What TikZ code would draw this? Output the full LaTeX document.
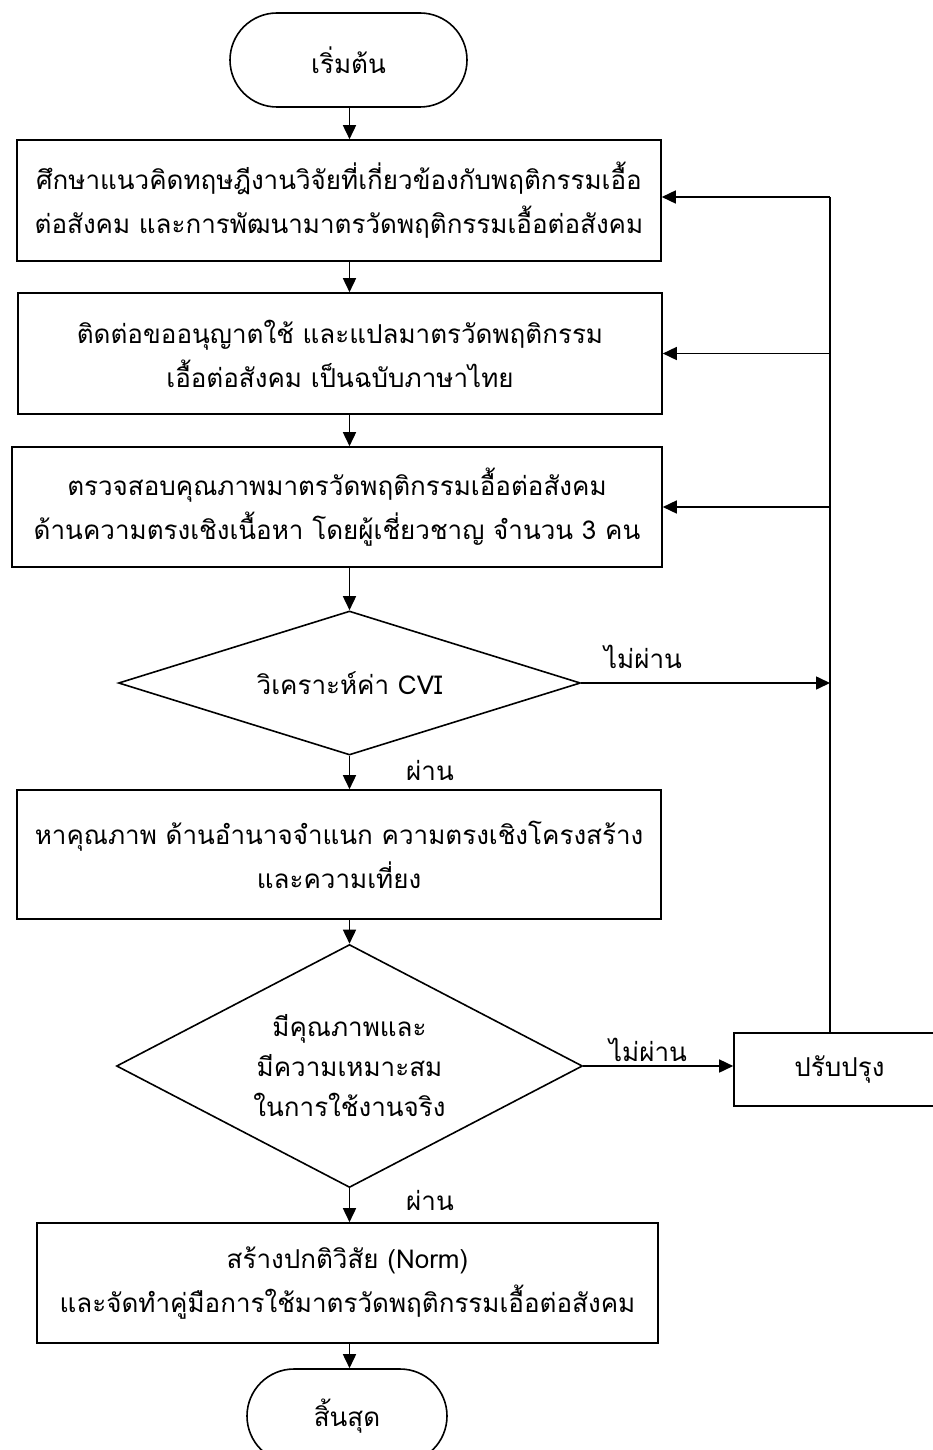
\documentclass[tikz,border=0pt]{standalone}
\usepackage{fontspec}
\setmainfont{Loma}[Script=Thai]
\usetikzlibrary{arrows.meta,shapes.geometric}
\begin{document}
\begin{tikzpicture}[x=1pt,y=-1pt,
  txt/.style={font=\fontsize{26}{44}\selectfont},
  term/.style={txt,draw,line width=1.6pt,rounded corners=47pt,
    minimum width=#1,minimum height=94pt,inner sep=0pt},
  procbox/.style={txt,draw,line width=1.6pt,align=center,inner sep=0pt},
  decision/.style={txt,draw,diamond,line width=1.6pt,align=center,inner sep=0pt},
  flow/.style={line width=1.6pt,-{Triangle[length=14pt,width=13pt]}},
  link/.style={line width=1.6pt},
  lbl/.style={txt,inner sep=0pt}]
\useasboundingbox (0,0) rectangle (932,1450);

% main column and feedback rail
\coordinate (col) at (349.5,0);
\coordinate (rail) at (830,197);

% nodes
\node[term=237pt] (start) at (348.5,60) {เริ่มต้น};
\node[procbox,minimum width=644pt,minimum height=121pt] (b1) at (339,200.5)
  {ศึกษาแนวคิดทฤษฎีงานวิจัยที่เกี่ยวข้องกับพฤติกรรมเอื้อ\\ต่อสังคม และการพัฒนามาตรวัดพฤติกรรมเอื้อต่อสังคม};
\node[procbox,minimum width=644pt,minimum height=121pt] (b2) at (340,353.5)
  {ติดต่อขออนุญาตใช้ และแปลมาตรวัดพฤติกรรม\\เอื้อต่อสังคม เป็นฉบับภาษาไทย};
\node[procbox,minimum width=650pt,minimum height=120pt] (b3) at (337,507)
  {ตรวจสอบคุณภาพมาตรวัดพฤติกรรมเอื้อต่อสังคม\\ด้านความตรงเชิงเนื้อหา โดยผู้เชี่ยวชาญ จำนวน 3 คน};
\node[decision,aspect=3.2,minimum width=462pt,minimum height=144pt] (d1) at (349.5,683)
  {วิเคราะห์ค่า CVI};
\node[procbox,minimum width=644pt,minimum height=129pt] (b4) at (339,854.5)
  {หาคุณภาพ ด้านอำนาจจำแนก ความตรงเชิงโครงสร้าง\\และความเที่ยง};
\node[decision,aspect=1.92,minimum width=466pt,minimum height=243pt,
  font=\fontsize{26}{40}\selectfont] (d2) at (349.5,1066)
  {มีคุณภาพและ\\มีความเหมาะสม\\ในการใช้งานจริง};
\node[procbox,minimum width=211pt,minimum height=73pt] (fix) at (839.5,1069.5)
  {ปรับปรุง};
\node[procbox,minimum width=621pt,minimum height=120pt] (b5) at (347.5,1283)
  {สร้างปกติวิสัย (Norm)\\และจัดทำคู่มือการใช้มาตรวัดพฤติกรรมเอื้อต่อสังคม};
\node[term=200pt] (stop) at (347,1416) {สิ้นสุด};

% branch labels
\node[lbl] (no1) at (643,657) {ไม่ผ่าน};
\node[lbl] (no2) at (648,1050) {ไม่ผ่าน};
\node[lbl] (yes1) at (430,770) {ผ่าน};
\node[lbl] (yes2) at (430,1200) {ผ่าน};

% main flow
\draw[flow] (start.south -| col) -- (b1.north -| col);
\draw[flow] (b1.south -| col) -- (b2.north -| col);
\draw[flow] (b2.south -| col) -- (b3.north -| col);
\draw[flow] (b3.south -| col) -- (d1.north);
\draw[flow] (d1.south) -- (b4.north -| col);
\draw[flow] (b4.south -| col) -- (d2.north);
\draw[flow] (d2.south) -- (b5.north -| col);
\draw[flow] (b5.south -| col) -- (stop.north -| col);

% rejection branches and feedback rail
\draw[flow] (d1.east) -- (d1.east -| rail);
\draw[flow] (d2.east) -- (d2.east -| fix.west);
\draw[link] (fix.north -| rail) -- (rail);
\draw[flow] (rail) -- (rail -| b1.east);
\draw[flow] (b2.east -| rail) -- (b2.east);
\draw[flow] (b3.east -| rail) -- (b3.east);
\end{tikzpicture}
\end{document}
